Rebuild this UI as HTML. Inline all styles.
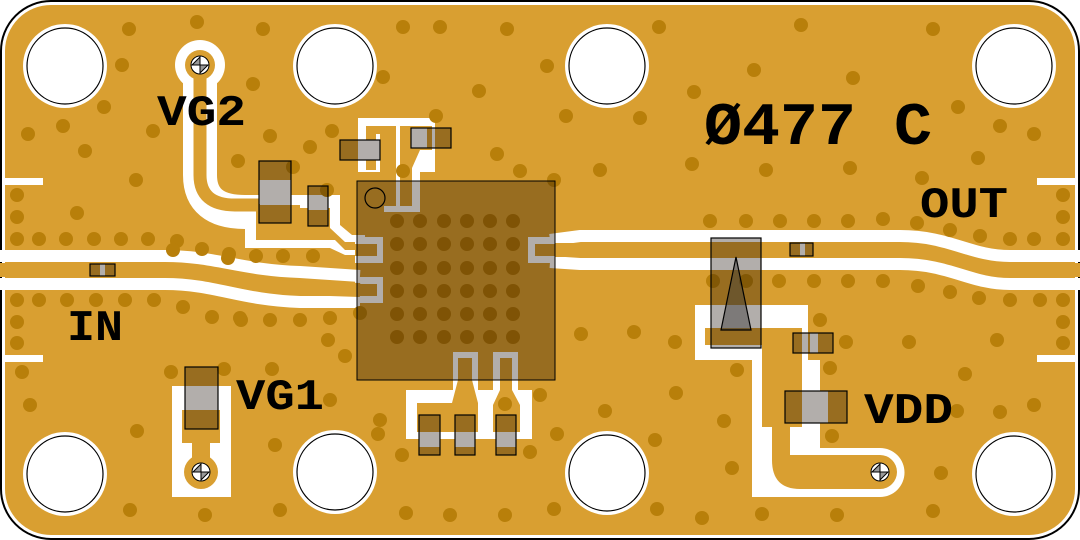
<!DOCTYPE html>
<html><head><meta charset="utf-8"><style>
html,body{margin:0;padding:0;background:#fff;}
svg{display:block;}
text{font-family:"Liberation Mono","DejaVu Sans Mono",monospace;font-weight:bold;fill:#000;}
</style></head><body>
<svg width="1080" height="540" viewBox="0 0 1080 540" xmlns="http://www.w3.org/2000/svg">
<defs>
<g id="vm">
<circle r="9" fill="#fff" stroke="#000" stroke-width="1"/>
<path d="M-8,0 L0,-8 L0,0 Z M0,0 L8,0 L0,8 Z" fill="#999" stroke="#000" stroke-width="1"/>
<path d="M-8,0 H8 M0,-8 V8" stroke="#000" stroke-width="1"/>
</g>
</defs>
<rect x="1" y="1" width="1078" height="538" rx="50" fill="#fff" stroke="#000" stroke-width="2"/>
<rect x="5" y="5" width="1070" height="530" rx="46" fill="#d99f31"/>

<g fill="#fff">
<rect x="5" y="178" width="38" height="7"/><rect x="5" y="355" width="38" height="7"/>
<rect x="1037" y="178" width="38" height="7"/><rect x="1037" y="355" width="38" height="7"/>
</g>

<g fill="none" stroke="#fff">
<path d="M0,256 H165 C215,256 240,270 300,272 L360,276" stroke-width="12"/>
<path d="M0,284 H165 C215,284 240,300 300,302 L360,302" stroke-width="12"/>
<path d="M550,240 L580,236 H900 C950,236 970,256 1010,256 H1080" stroke-width="12"/>
<path d="M550,262 L580,264 H900 C950,264 970,284 1010,284 H1080" stroke-width="12"/>
</g>

<circle cx="200" cy="65" r="25" fill="#fff"/>
<path d="M200,70 V175 Q200,212 245,212 H300" fill="none" stroke="#fff" stroke-width="34"/>
<polygon points="245,195 340,195 340,225 352,235 365,235 365,255 345,255 330,248 245,248" fill="#fff"/>
<circle cx="200" cy="65" r="15" fill="#d99f31"/>
<path d="M200,70 V175 Q200,205 235,205 H260" fill="none" stroke="#d99f31" stroke-width="13"/>
<polygon points="256,205 300,205 300,208 330,208 330,228 345,242 365,242 365,250 345,250 335,240 256,240" fill="#d99f31"/>
<use href="#vm" x="200" y="65"/>

<polygon points="358,118 435,118 435,172 420,172 420,212 384,212 384,172 358,172" fill="#fff"/>
<g fill="#d99f31">
<rect x="366" y="126" width="30" height="8"/>
<rect x="380" y="126" width="16" height="80"/>
<rect x="400" y="126" width="32" height="24"/>
<polygon points="400,150 420,150 412,168 412,206 400,206"/>
<rect x="366" y="134" width="10" height="36"/>
</g>

<rect x="355" y="237" width="28" height="26" fill="#fff"/>
<rect x="355" y="244" width="22" height="12" fill="#d99f31"/>
<rect x="355" y="277" width="28" height="26" fill="#fff"/>
<rect x="355" y="284" width="22" height="12" fill="#d99f31"/>
<rect x="528" y="237" width="30" height="26" fill="#fff"/>
<rect x="535" y="244" width="23" height="12" fill="#d99f31"/>
<path d="M0,270 H165 C215,270 240,287 300,288 L360,290" fill="none" stroke="#d99f31" stroke-width="14"/>
<path d="M555,250 H900 C950,250 970,270 1010,270 H1080" fill="none" stroke="#d99f31" stroke-width="14"/>

<polygon points="406,390 453,390 453,352 478,352 478,390 493,390 493,352 518,352 518,390 532,390 532,439 406,439" fill="#fff"/>
<g fill="#d99f31">
<polygon points="417,403 452,403 458,380 458,358 472,358 472,380 478,403 478,432 417,432"/>
<polygon points="493,432 493,405 500,390 500,358 512,358 512,390 520,405 520,432"/>
</g>

<rect x="172" y="386" width="59" height="111" fill="#fff"/>
<rect x="182" y="410" width="38" height="33" fill="#d99f31"/>
<rect x="192" y="440" width="18" height="20" fill="#d99f31"/>
<circle cx="201" cy="472" r="17" fill="#d99f31"/>
<use href="#vm" x="201" y="472"/>

<!-- VDD -->
<path d="M695,305 H808 V360 H820 V448 H880 A24.5,24.5 0 0 1 880,497 H752 V360 H695 Z" fill="#fff"/>
<path d="M705,328 H802 V427 H790 V455 H880 A17,17 0 0 1 880,489 H800 Q772,489 772,460 V380 H762 V345 H705 Z" fill="#d99f31"/>
<rect x="762" y="345" width="40" height="82" fill="#d99f31"/>
<use href="#vm" x="880" y="472"/>

<g fill="#b87f0a">
<circle cx="17" cy="239" r="7"/><circle cx="39" cy="239" r="7"/><circle cx="66" cy="239" r="7"/><circle cx="94" cy="239" r="7"/><circle cx="121" cy="239" r="7"/><circle cx="148" cy="239" r="7"/><circle cx="177" cy="241" r="7"/><circle cx="202" cy="249" r="7"/><circle cx="228" cy="258" r="7"/>
<circle cx="173" cy="250" r="7"/><circle cx="229" cy="254" r="7"/><circle cx="256" cy="256" r="7"/><circle cx="283" cy="256" r="7"/><circle cx="313" cy="256" r="7"/>
<circle cx="17" cy="300" r="7"/><circle cx="39" cy="300" r="7"/><circle cx="67" cy="300" r="7"/><circle cx="96" cy="300" r="7"/><circle cx="125" cy="300" r="7"/><circle cx="154" cy="300" r="7"/><circle cx="183" cy="307" r="7"/><circle cx="212" cy="317" r="7"/><circle cx="241" cy="320" r="7"/><circle cx="270" cy="320" r="7"/><circle cx="300" cy="320" r="7"/><circle cx="330" cy="318" r="7"/><circle cx="360" cy="313" r="7"/>
<circle cx="17" cy="195" r="7"/><circle cx="17" cy="217" r="7"/><circle cx="17" cy="322" r="7"/><circle cx="17" cy="343" r="7"/>
<circle cx="1063" cy="239" r="7"/><circle cx="1034" cy="239" r="7"/><circle cx="1010" cy="239" r="7"/><circle cx="980" cy="236" r="7"/><circle cx="950" cy="230" r="7"/><circle cx="917" cy="223" r="7"/><circle cx="883" cy="219" r="7"/>
<circle cx="1063" cy="300" r="7"/><circle cx="1040" cy="300" r="7"/><circle cx="1010" cy="300" r="7"/><circle cx="979" cy="298" r="7"/><circle cx="950" cy="292" r="7"/><circle cx="918" cy="286" r="7"/><circle cx="883" cy="281" r="7"/>
<circle cx="713" cy="281" r="7"/><circle cx="746" cy="281" r="7"/><circle cx="779" cy="281" r="7"/><circle cx="814" cy="281" r="7"/><circle cx="848" cy="281" r="7"/>
<circle cx="710" cy="221" r="7"/><circle cx="746" cy="221" r="7"/><circle cx="780" cy="221" r="7"/><circle cx="814" cy="221" r="7"/><circle cx="848" cy="221" r="7"/>
<circle cx="1063" cy="195" r="7"/><circle cx="1063" cy="217" r="7"/><circle cx="1063" cy="322" r="7"/><circle cx="1063" cy="343" r="7"/>
<circle cx="129" cy="29" r="7"/><circle cx="197" cy="22" r="7"/><circle cx="263" cy="29" r="7"/><circle cx="403" cy="27" r="7"/><circle cx="440" cy="27" r="7"/><circle cx="507" cy="29" r="7"/><circle cx="122" cy="65" r="7"/><circle cx="253" cy="84" r="7"/><circle cx="383" cy="77" r="7"/><circle cx="479" cy="91" r="7"/><circle cx="104" cy="107" r="7"/><circle cx="28" cy="134" r="7"/><circle cx="63" cy="126" r="7"/><circle cx="153" cy="131" r="7"/><circle cx="270" cy="136" r="7"/><circle cx="332" cy="131" r="7"/><circle cx="85" cy="151" r="7"/><circle cx="310" cy="147" r="7"/><circle cx="238" cy="161" r="7"/><circle cx="436" cy="116" r="7"/><circle cx="497" cy="154" r="7"/><circle cx="403" cy="171" r="7"/><circle cx="136" cy="180" r="7"/><circle cx="293" cy="167" r="7"/><circle cx="327" cy="190" r="7"/><circle cx="77" cy="213" r="7"/>
<circle cx="659" cy="27" r="7"/><circle cx="801" cy="25" r="7"/><circle cx="933" cy="29" r="7"/><circle cx="547" cy="66" r="7"/><circle cx="754" cy="70" r="7"/><circle cx="853" cy="78" r="7"/><circle cx="694" cy="92" r="7"/><circle cx="566" cy="116" r="7"/><circle cx="640" cy="118" r="7"/><circle cx="958" cy="107" r="7"/><circle cx="1000" cy="126" r="7"/><circle cx="1034" cy="134" r="7"/><circle cx="600" cy="170" r="7"/><circle cx="692" cy="164" r="7"/><circle cx="766" cy="170" r="7"/><circle cx="850" cy="168" r="7"/><circle cx="978" cy="158" r="7"/><circle cx="922" cy="178" r="7"/><circle cx="554" cy="180" r="7"/><circle cx="520" cy="171" r="7"/>
<circle cx="581" cy="334" r="7"/><circle cx="634" cy="332" r="7"/><circle cx="675" cy="342" r="7"/><circle cx="820" cy="320" r="7"/><circle cx="846" cy="342" r="7"/><circle cx="909" cy="342" r="7"/><circle cx="997" cy="340" r="7"/><circle cx="830" cy="368" r="7"/><circle cx="737" cy="370" r="7"/><circle cx="965" cy="374" r="7"/><circle cx="676" cy="393" r="7"/><circle cx="605" cy="411" r="7"/><circle cx="724" cy="421" r="7"/><circle cx="832" cy="436" r="7"/><circle cx="1000" cy="412" r="7"/><circle cx="1034" cy="405" r="7"/><circle cx="957" cy="411" r="7"/><circle cx="557" cy="434" r="7"/><circle cx="655" cy="440" r="7"/><circle cx="732" cy="468" r="7"/><circle cx="941" cy="473" r="7"/><circle cx="554" cy="509" r="7"/><circle cx="657" cy="509" r="7"/><circle cx="702" cy="518" r="7"/><circle cx="762" cy="514" r="7"/><circle cx="837" cy="515" r="7"/><circle cx="933" cy="511" r="7"/>
<circle cx="30" cy="405" r="7"/><circle cx="22" cy="372" r="7"/><circle cx="171" cy="372" r="7"/><circle cx="224" cy="369" r="7"/><circle cx="272" cy="369" r="7"/><circle cx="345" cy="356" r="7"/><circle cx="330" cy="400" r="7"/><circle cx="275" cy="445" r="7"/><circle cx="380" cy="420" r="7"/><circle cx="240" cy="318" r="7"/><circle cx="137" cy="431" r="7"/><circle cx="73" cy="470" r="7"/><circle cx="130" cy="510" r="7"/><circle cx="205" cy="515" r="7"/><circle cx="280" cy="510" r="7"/><circle cx="402" cy="455" r="7"/><circle cx="406" cy="513" r="7"/><circle cx="450" cy="515" r="7"/><circle cx="505" cy="515" r="7"/><circle cx="530" cy="452" r="7"/><circle cx="505" cy="404" r="7"/><circle cx="540" cy="395" r="7"/><circle cx="378" cy="434" r="7"/><circle cx="328" cy="340" r="7"/>
</g>

<rect x="357" y="181" width="198" height="199" fill="rgba(20,10,0,0.33)" stroke="#000" stroke-width="1"/>
<g fill="#7f5305">
<circle cx="397" cy="221" r="7"/><circle cx="420" cy="221" r="7"/><circle cx="444" cy="221" r="7"/><circle cx="467" cy="221" r="7"/><circle cx="490" cy="221" r="7"/><circle cx="513" cy="221" r="7"/>
<circle cx="397" cy="244" r="7"/><circle cx="420" cy="244" r="7"/><circle cx="444" cy="244" r="7"/><circle cx="467" cy="244" r="7"/><circle cx="490" cy="244" r="7"/><circle cx="513" cy="244" r="7"/>
<circle cx="397" cy="268" r="7"/><circle cx="420" cy="268" r="7"/><circle cx="444" cy="268" r="7"/><circle cx="467" cy="268" r="7"/><circle cx="490" cy="268" r="7"/><circle cx="513" cy="268" r="7"/>
<circle cx="397" cy="291" r="7"/><circle cx="420" cy="291" r="7"/><circle cx="444" cy="291" r="7"/><circle cx="467" cy="291" r="7"/><circle cx="490" cy="291" r="7"/><circle cx="513" cy="291" r="7"/>
<circle cx="397" cy="314" r="7"/><circle cx="420" cy="314" r="7"/><circle cx="444" cy="314" r="7"/><circle cx="467" cy="314" r="7"/><circle cx="490" cy="314" r="7"/><circle cx="513" cy="314" r="7"/>
<circle cx="397" cy="337" r="7"/><circle cx="420" cy="337" r="7"/><circle cx="444" cy="337" r="7"/><circle cx="467" cy="337" r="7"/><circle cx="490" cy="337" r="7"/><circle cx="513" cy="337" r="7"/>
</g>
<circle cx="375" cy="198" r="10" fill="none" stroke="#000" stroke-width="1.2"/>

<g fill="#fff">
<rect x="259" y="180" width="32" height="24"/>
<rect x="308" y="203" width="20" height="7"/>
<rect x="364" y="140" width="16" height="20"/>
<rect x="411" y="128" width="16" height="20"/>
<rect x="185" y="387" width="33" height="23"/>
<rect x="419" y="432" width="21" height="15"/><rect x="455" y="432" width="20" height="15"/><rect x="496" y="432" width="20" height="15"/>
<rect x="711" y="258" width="50" height="10"/><rect x="711" y="305" width="50" height="23"/>
<rect x="800" y="243" width="5" height="13"/>
<rect x="810" y="333" width="8" height="20"/>
<rect x="810" y="391" width="18" height="32"/>
<rect x="100" y="264" width="5" height="12"/>
</g>
<g fill="rgba(20,10,0,0.33)" stroke="#000" stroke-width="1.2">
<rect x="259" y="161" width="32" height="62"/>
<rect x="308" y="186" width="20" height="40"/>
<rect x="340" y="140" width="40" height="20"/>
<rect x="411" y="128" width="40" height="20"/>
<rect x="185" y="367" width="33" height="62"/>
<rect x="419" y="415" width="21" height="40"/><rect x="455" y="415" width="20" height="40"/><rect x="496" y="415" width="20" height="40"/>
<rect x="711" y="238" width="50" height="110"/>
<rect x="790" y="243" width="23" height="13"/>
<rect x="793" y="333" width="40" height="20"/>
<rect x="785" y="391" width="62" height="32"/>
<rect x="90" y="264" width="25" height="12"/>
</g>
<polygon points="736,257 721,330 751,330" fill="rgba(60,60,60,0.45)" stroke="#000" stroke-width="1.2"/>

<g fill="#fff" stroke="#000" stroke-width="1.2">
<circle cx="65" cy="66" r="42" stroke="none"/><circle cx="65" cy="66" r="38"/>
<circle cx="335" cy="66" r="42" stroke="none"/><circle cx="335" cy="66" r="38"/>
<circle cx="607" cy="66" r="42" stroke="none"/><circle cx="607" cy="66" r="38"/>
<circle cx="1014" cy="66" r="42" stroke="none"/><circle cx="1014" cy="66" r="38"/>
<circle cx="65" cy="474" r="42" stroke="none"/><circle cx="65" cy="474" r="38"/>
<circle cx="335" cy="472" r="42" stroke="none"/><circle cx="335" cy="472" r="38"/>
<circle cx="607" cy="473" r="42" stroke="none"/><circle cx="607" cy="473" r="38"/>
<circle cx="1014" cy="474" r="42" stroke="none"/><circle cx="1014" cy="474" r="38"/>
</g>

<text x="157" y="125" font-size="44" textLength="89" lengthAdjust="spacingAndGlyphs">VG2</text>
<text x="67" y="340" font-size="44" textLength="56" lengthAdjust="spacingAndGlyphs">IN</text>
<text x="236" y="409" font-size="44" textLength="88" lengthAdjust="spacingAndGlyphs">VG1</text>
<text x="704" y="144" font-size="60" textLength="228" lengthAdjust="spacingAndGlyphs">Ø477 C</text>
<text x="920" y="217" font-size="44" textLength="88" lengthAdjust="spacingAndGlyphs">OUT</text>
<text x="864" y="423" font-size="44" textLength="89" lengthAdjust="spacingAndGlyphs">VDD</text>
</svg>
</body></html>
